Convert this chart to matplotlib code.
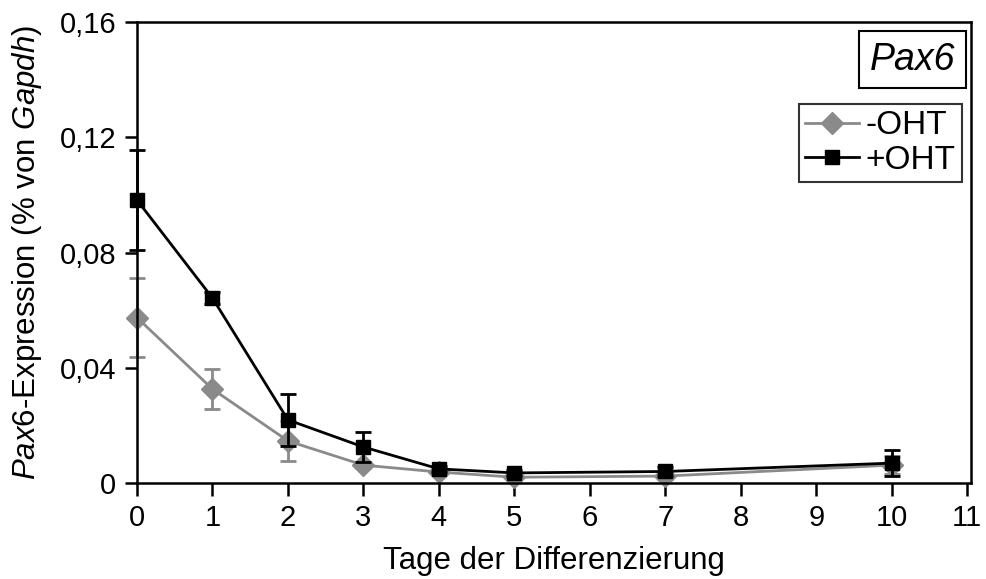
import matplotlib
matplotlib.use('Agg')
import matplotlib.pyplot as plt
from matplotlib.lines import Line2D

plt.rcParams['font.family'] = ['Liberation Sans', 'DejaVu Sans']
plt.rcParams['mathtext.fontset'] = 'custom'
plt.rcParams['mathtext.rm'] = 'Liberation Sans'
plt.rcParams['mathtext.it'] = 'Liberation Sans:italic'

# data
days = [0, 1, 2, 3, 4, 5, 7, 10]
minus_oht = [0.0574, 0.0326, 0.0146, 0.0062, 0.0038, 0.0020, 0.0024, 0.0062]
minus_err = [0.0137, 0.0070, 0.0070, 0.0010, 0.0008, 0.0008, 0.0010, 0.0030]
plus_oht = [0.0982, 0.0642, 0.0219, 0.0125, 0.0049, 0.0035, 0.0040, 0.0069]
plus_err = [0.0174, 0.0020, 0.0090, 0.0052, 0.0010, 0.0010, 0.0015, 0.0046]
xticks = list(range(0, 12))
yticks = [0, 0.04, 0.08, 0.12, 0.16]
ytick_labels = ['0', '0,04', '0,08', '0,12', '0,16']

grey = '#8a8a8a'

fig = plt.figure(figsize=(9.86, 5.79), dpi=100)
ax = fig.add_axes([137 / 986, 1 - 483 / 579, (971 - 137) / 986, (483 - 22) / 579])

for y, e, c, m, z in [(minus_oht, minus_err, grey, 'D', 2), (plus_oht, plus_err, 'black', 's', 3)]:
    ax.errorbar(days, y, yerr=e, color=c, marker=m, markersize=11 if m == 'D' else 10,
                linewidth=2, capsize=6, capthick=2, elinewidth=2, zorder=z, clip_on=False)

ax.set_xlim(0, 11.05)
ax.set_ylim(0, 0.16)
ax.set_xticks(xticks)
ax.set_yticks(yticks)
ax.set_yticklabels(ytick_labels)
ax.tick_params(direction='out', length=9, width=1.8, labelsize=21, pad=6)
for s in ax.spines.values():
    s.set_linewidth(1.8)

ax.set_xlabel('Tage der Differenzierung', fontsize=22.5, labelpad=10)
ax.set_ylabel(r'$\mathit{Pax6}$-Expression (% von $\mathit{Gapdh}$)', fontsize=22.5, labelpad=11)

handles = [Line2D([], [], color=grey, marker='D', markersize=11, linewidth=2),
           Line2D([], [], color='black', marker='s', markersize=10, linewidth=2)]
leg = ax.legend(handles, ['-OHT', '+OHT'], loc='upper right', bbox_to_anchor=(0.9892, 0.8225),
                fontsize=24, frameon=True, fancybox=False, edgecolor='black', handlelength=1.6,
                handletextpad=0.2, borderpad=0.2, labelspacing=0.1, borderaxespad=0)
leg.get_frame().set_linewidth(1.5)

ax.text(0.9892 - 0.008, 0.957, 'Pax6', transform=ax.transAxes, ha='right', va='top',
        fontsize=27, fontstyle='italic',
        bbox=dict(boxstyle='square,pad=0.28', facecolor='white', edgecolor='black', linewidth=1.5))

plt.savefig('out.png', dpi=100)
